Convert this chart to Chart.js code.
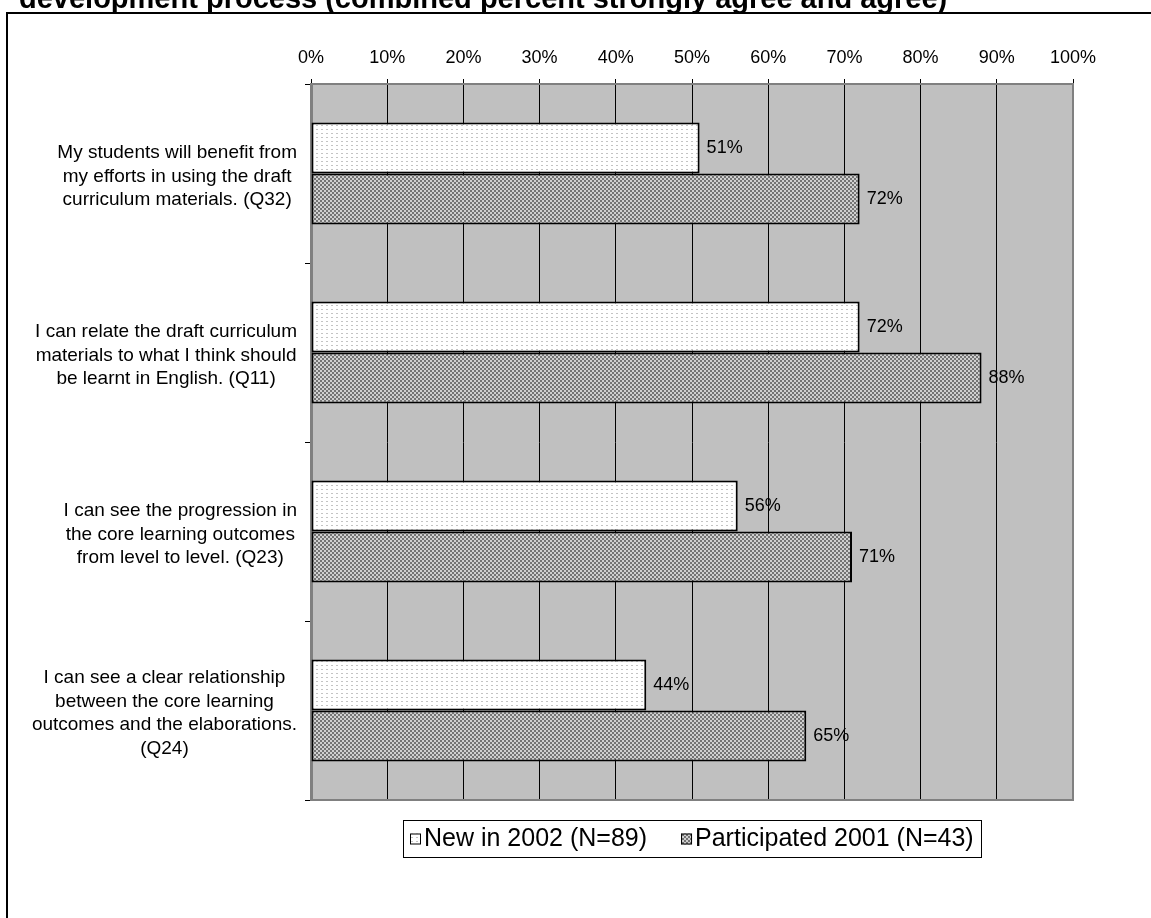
<!DOCTYPE html>
<html>
<head>
<meta charset="utf-8">
<title>Draft curriculum materials</title>
<script src="https://cdn.jsdelivr.net/npm/chart.js@4.4.1/dist/chart.umd.min.js"></script>
<style>
  html, body { margin: 0; padding: 0; background: #fff; }
  #chart { display: block; }
</style>
</head>
<body>
<canvas id="chart" width="1151" height="918"></canvas>
<script>
// ---- data ----
const chartTitle = 'development process (combined percent strongly agree and agree)';

const categories = [
  ['My students will benefit from', 'my efforts in using the draft', 'curriculum materials. (Q32)'],
  ['I can relate the draft curriculum', 'materials to what I think should', 'be learnt in English. (Q11)'],
  ['I can see the progression in', 'the core learning outcomes', 'from level to level. (Q23)'],
  ['I can see a clear relationship', 'between the core learning', 'outcomes and the elaborations.', '(Q24)']
];

const seriesNames = ['New in 2002 (N=89)', 'Participated 2001 (N=43)'];
const newIn2002 = [51, 72, 56, 44];
const participated2001 = [72, 88, 71, 65];

const xTickStep = 10;
const xMax = 100;

const FONT = '"Liberation Sans", Arial, sans-serif';
Chart.defaults.font.family = FONT;
Chart.defaults.color = '#000';

// ---- fill patterns (excel style) ----
function makePattern(size, draw) {
  const c = document.createElement('canvas');
  c.width = size[0];
  c.height = size[1];
  draw(c.getContext('2d'));
  return document.getElementById('chart').getContext('2d').createPattern(c, 'repeat');
}

const lightDots = makePattern([5, 4], g => {
  g.fillStyle = '#fff';
  g.fillRect(0, 0, 5, 4);
  g.fillStyle = '#c4c4c4';
  g.fillRect(1, 1, 2, 1);
});

const darkChecks = makePattern([4, 4], g => {
  g.fillStyle = '#d0d0d0';
  g.fillRect(0, 0, 4, 4);
  g.fillStyle = '#747474';
  g.fillRect(0, 0, 2, 2);
  g.fillRect(2, 2, 2, 2);
});

// ---- plugins ----
const background = {
  id: 'background',
  beforeDraw(chart) {
    const { ctx, chartArea: a } = chart;
    ctx.save();
    ctx.fillStyle = '#fff';
    ctx.fillRect(0, 0, chart.width, chart.height);
    ctx.fillStyle = '#c0c0c0';
    ctx.fillRect(a.left, a.top, a.right - a.left, a.bottom - a.top);
    ctx.restore();
  },
  beforeDatasetsDraw(chart) {
    const { ctx, chartArea: a } = chart;
    ctx.save();
    ctx.strokeStyle = '#808080';
    ctx.lineWidth = 2;
    ctx.beginPath();
    ctx.moveTo(a.left, a.bottom);
    ctx.lineTo(a.right, a.bottom);
    ctx.lineTo(a.right, a.top);
    ctx.stroke();
    ctx.restore();
  }
};

const frameAndTitle = {
  id: 'frameAndTitle',
  afterDraw(chart) {
    const { ctx } = chart;
    ctx.save();
    ctx.fillStyle = '#000';
    ctx.font = 'bold 29px ' + FONT;
    ctx.textAlign = 'left';
    ctx.textBaseline = 'alphabetic';
    ctx.fillText(chartTitle, 19, 8);

    ctx.fillStyle = '#fff';
    ctx.fillRect(8, 14, chart.width, 6);
    ctx.strokeStyle = '#000';
    ctx.lineWidth = 2;
    ctx.beginPath();
    ctx.moveTo(7, chart.height);
    ctx.lineTo(7, 13);
    ctx.lineTo(chart.width, 13);
    ctx.stroke();
    ctx.restore();
  }
};

// category labels: each block right aligned, lines centred inside the block
const categoryLabels = {
  id: 'categoryLabels',
  afterDraw(chart) {
    const { ctx } = chart;
    const y = chart.scales.y;
    const right = y.right - 14;
    const lh = 23.5;
    ctx.save();
    ctx.font = '19px ' + FONT;
    ctx.fillStyle = '#000';
    ctx.textAlign = 'center';
    ctx.textBaseline = 'middle';
    categories.forEach((lines, i) => {
      const widest = Math.max(...lines.map(l => ctx.measureText(l).width));
      const cx = right - widest / 2;
      const cy = y.getPixelForValue(i) + 3;
      lines.forEach((l, k) => {
        ctx.fillText(l, cx, cy + (k - (lines.length - 1) / 2) * lh);
      });
    });
    ctx.restore();
  }
};

const valueLabels = {
  id: 'valueLabels',
  afterDatasetsDraw(chart) {
    const { ctx } = chart;
    ctx.save();
    ctx.font = '18px ' + FONT;
    ctx.fillStyle = '#000';
    ctx.textAlign = 'left';
    ctx.textBaseline = 'middle';
    chart.data.datasets.forEach((ds, i) => {
      chart.getDatasetMeta(i).data.forEach((bar, j) => {
        ctx.fillText(ds.data[j] + '%', bar.x + 7, bar.y);
      });
    });
    ctx.restore();
  }
};

const boxedLegend = {
  id: 'boxedLegend',
  afterDraw(chart) {
    const { ctx, chartArea: a } = chart;
    ctx.save();
    ctx.font = '25px ' + FONT;
    const widths = seriesNames.map(n => ctx.measureText(n).width);
    const marker = 11, gap = 3, itemGap = 34, pad = 7;
    const total = pad + marker + gap + widths[0] + itemGap + marker + gap + widths[1] + pad;
    const left = Math.round((a.left + a.right) / 2 - total / 2);
    const top = a.bottom + 20;
    const height = 37;
    ctx.fillStyle = '#fff';
    ctx.fillRect(left, top, total, height);
    ctx.strokeStyle = '#000';
    ctx.lineWidth = 1;
    ctx.strokeRect(left + 0.5, top + 0.5, Math.round(total), height);

    const cy = top + height / 2;
    let x = left + pad;
    chart.data.datasets.forEach((ds, i) => {
      ctx.fillStyle = ds.backgroundColor;
      ctx.fillRect(x, cy - 5, marker, marker);
      ctx.strokeStyle = '#000';
      ctx.strokeRect(x + 0.5, cy - 4.5, marker - 1, marker - 1);
      x += marker + gap;
      ctx.fillStyle = '#000';
      ctx.textAlign = 'left';
      ctx.textBaseline = 'middle';
      ctx.fillText(seriesNames[i], x, cy + 1);
      x += widths[i] + itemGap;
    });
    ctx.restore();
  }
};

// ---- chart ----
new Chart(document.getElementById('chart'), {
  type: 'bar',
  data: {
    labels: categories,
    datasets: [
      {
        label: seriesNames[0],
        data: newIn2002,
        backgroundColor: lightDots,
        borderColor: '#000',
        borderWidth: 2,
        borderSkipped: false
      },
      {
        label: seriesNames[1],
        data: participated2001,
        backgroundColor: darkChecks,
        borderColor: '#000',
        borderWidth: 2,
        borderSkipped: false
      }
    ]
  },
  options: {
    indexAxis: 'y',
    responsive: false,
    animation: false,
    events: [],
    categoryPercentage: 0.57,
    barPercentage: 1.0,
    layout: {
      padding: { left: 0, right: 78, top: 45, bottom: 118 }
    },
    plugins: {
      legend: { display: false },
      title: { display: false },
      tooltip: { enabled: false }
    },
    scales: {
      x: {
        position: 'top',
        min: 0,
        max: xMax,
        ticks: {
          stepSize: xTickStep,
          padding: 10,
          font: { size: 18 },
          color: '#000',
          callback: v => v + '%'
        },
        grid: {
          color: '#000',
          lineWidth: 1,
          tickLength: 5
        },
        border: { display: true, color: '#808080', width: 2 },
        afterFit: s => { s.height = 39; }
      },
      y: {
        ticks: { display: false },
        grid: {
          color: '#000',
          drawOnChartArea: false,
          tickLength: 6,
          offset: true
        },
        border: { display: true, color: '#808080', width: 3 },
        afterFit: s => { s.width = 311; }
      }
    }
  },
  plugins: [background, frameAndTitle, categoryLabels, valueLabels, boxedLegend]
});
</script>
</body>
</html>
